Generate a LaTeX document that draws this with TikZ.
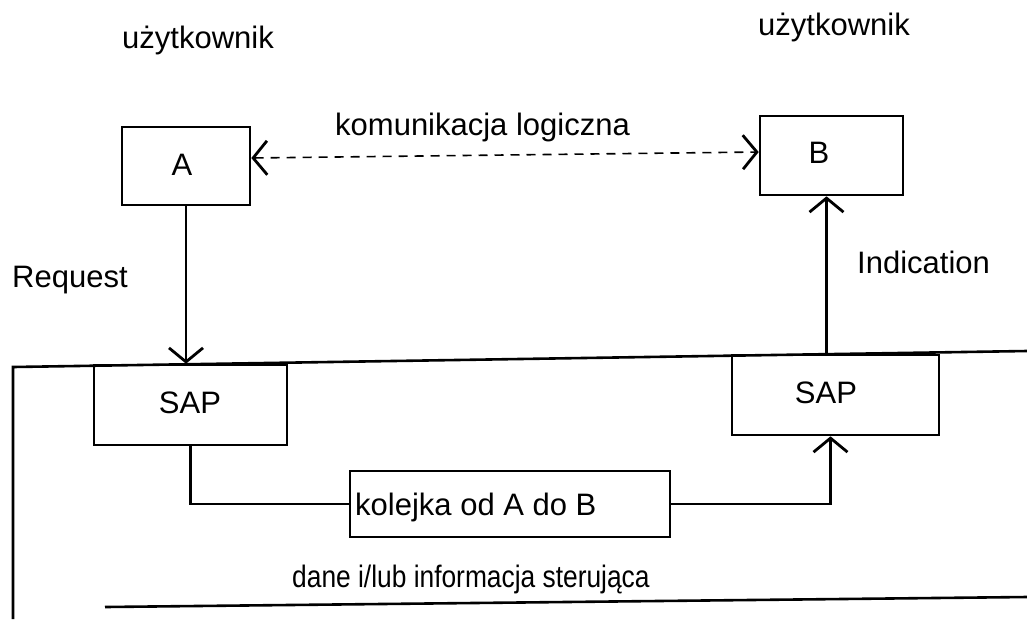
\documentclass[tikz,border=0pt]{standalone}
\usepackage{fontspec}
\setmainfont{Liberation Sans}
\usetikzlibrary{arrows.meta}
\begin{document}
\begin{tikzpicture}[x=1pt,y=-1pt,
  txt/.style={inner sep=0pt, font=\fontsize{31}{37}\selectfont},
  box/.style 2 args={draw, line width=2.6pt, inner sep=0pt,
    minimum width=#1, minimum height=#2},
  frame/.style={line width=2.6pt},
  arr/.style={line width=2.6pt,
    -{Straight Barb[length=14pt,width=34pt,line width=2.8pt]}},
  logic/.style={line width=1.6pt, dash pattern=on 9pt off 7pt,
    {Straight Barb[length=14pt,width=34pt,line width=2.8pt]}-{Straight Barb[length=14pt,width=34pt,line width=2.8pt]}}]
  \useasboundingbox (0,0) rectangle (1027,619);

  % service users and access points
  \node[box={128}{78}]  (A)    at (186,166)   {};
  \node[box={143}{79}]  (B)    at (831.5,155.5) {};
  \node[box={193}{80}]  (sapL) at (190.5,405) {};
  \node[box={207}{80}]  (sapR) at (835.5,395) {};
  \node[box={320}{66}]  (queue) at (510,504)  {};

  % texts
  \node[txt, anchor=base west] (userL) at (122,48)  {użytkownik};
  \node[txt, anchor=base west] (userR) at (758,35)  {użytkownik};
  \node[txt, anchor=base west] (logl)  at (335,135) {komunikacja logiczna};
  \node[txt, anchor=base west] (req)   at (12,287)  {Request};
  \node[txt, anchor=base west] (ind)   at (857,273) {Indication};
  \node[txt, anchor=base] (At)   at (182,175) {A};
  \node[txt, anchor=base] (Bt)   at (819,163) {B};
  \node[txt, anchor=base] (sapLt) at (190,413) {SAP};
  \node[txt, anchor=base] (sapRt) at (826,403) {SAP};
  \node[txt, anchor=base west] (queuet) at (355,515) {kolejka od A do B};
  \node[txt, anchor=base west] (data) at (292,587)
    {\scalebox{0.85}[1]{dane i/lub informacja sterująca}};

  % service provider boundary
  \coordinate (fTL) at (13,367);
  \coordinate (fTR) at (1027,351);
  \coordinate (fBL) at (13,619);
  \coordinate (bL)  at (105,607);
  \coordinate (bR)  at (1027,597);
  \draw[frame] (fBL) -- (fTL) -- (fTR);
  \draw[frame] (bL) -- (bR);

  % connectors
  \draw[logic] ([yshift=8pt]A.east) -- ([yshift=3.5pt]B.west);
  \draw[arr] (A.south) -- (A.south |- sapL.north);
  \draw[arr] ([xshift=-5pt]B.south |- sapR.north) -- ([xshift=-5pt]B.south);
  \draw[frame] (sapL.south) |- (queue.west);
  \draw[arr] (queue.east) -| ([xshift=-5pt]sapR.south);
\end{tikzpicture}
\end{document}
